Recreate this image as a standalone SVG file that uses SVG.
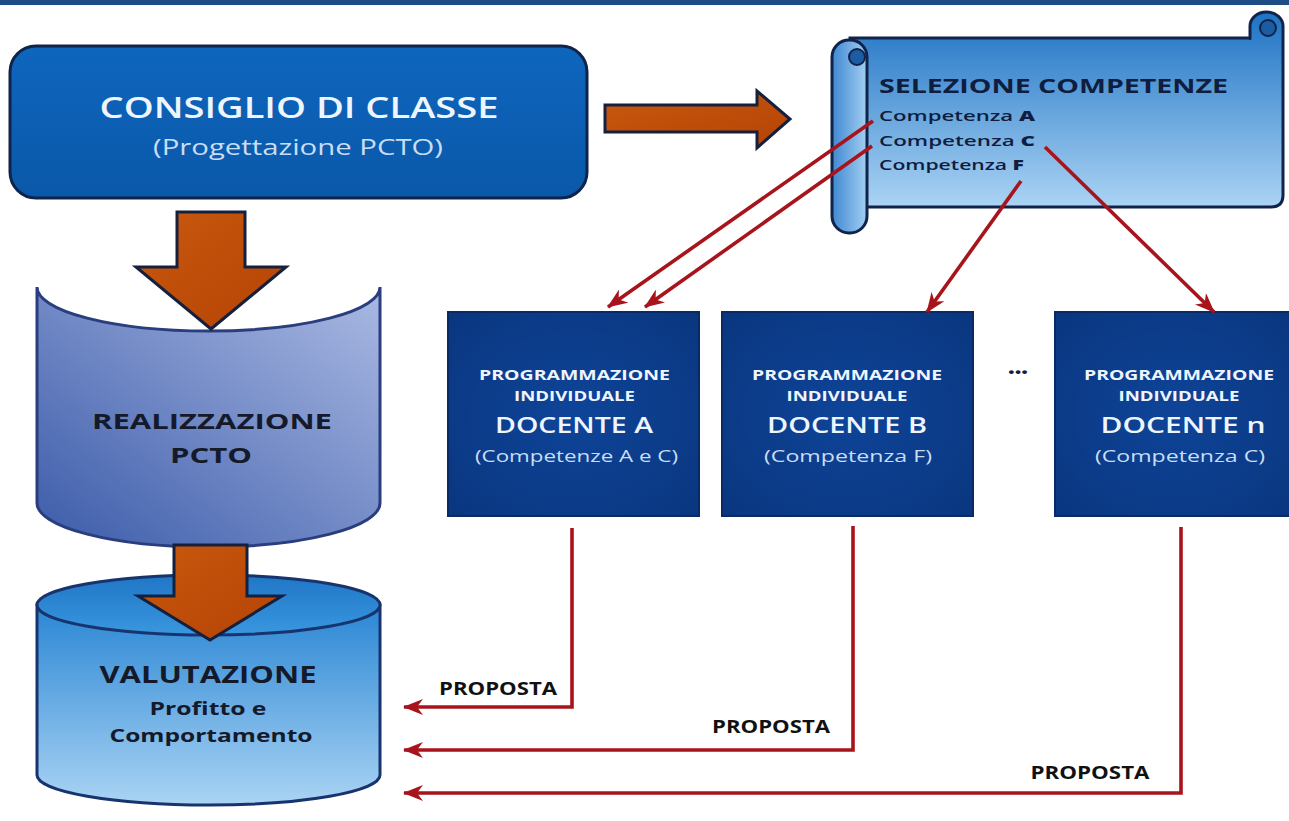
<svg xmlns="http://www.w3.org/2000/svg" width="1289" height="821" viewBox="0 0 1289 821">
<style>
text{font-family:"Open Sans","Liberation Sans",sans-serif}
.w{fill:#eef5ff}
.lb{fill:#c9ddf5}
.dk{fill:#141a2a;font-weight:700}
.nv{fill:#0f1d3f}
.red{fill:none;stroke:#a8141c;stroke-width:3.6;stroke-linejoin:miter}
.ol{stroke:#10234a;stroke-width:3}
.org{fill:url(#gOrg);stroke:#14203e;stroke-width:3;stroke-linejoin:miter}
.doc{fill:url(#gDoc);stroke:#082a66;stroke-width:2}
</style>
<defs>
<linearGradient id="gCons" x1="0" y1="0" x2="0" y2="1"><stop offset="0" stop-color="#0e66bd"/><stop offset="1" stop-color="#0a58a9"/></linearGradient>
<linearGradient id="gOrg" x1="0" y1="0" x2="1" y2="1"><stop offset="0" stop-color="#c9580e"/><stop offset="1" stop-color="#b54305"/></linearGradient>
<linearGradient id="gReal" x1="1" y1="0" x2="0" y2="1"><stop offset="0" stop-color="#aab9e3"/><stop offset="1" stop-color="#3b5ba9"/></linearGradient>
<linearGradient id="gValBody" x1="0" y1="0" x2="0" y2="1"><stop offset="0" stop-color="#2a86d4"/><stop offset="1" stop-color="#aad4f4"/></linearGradient>
<linearGradient id="gValTop" x1="0" y1="0" x2="0" y2="1"><stop offset="0" stop-color="#1f76c6"/><stop offset="1" stop-color="#3a97df"/></linearGradient>
<linearGradient id="gScroll" x1="0" y1="0" x2="0" y2="1"><stop offset="0" stop-color="#1d72c4"/><stop offset="1" stop-color="#abd4f4"/></linearGradient>
<linearGradient id="gRoll" x1="0" y1="0" x2="1" y2="0"><stop offset="0" stop-color="#3f88d2"/><stop offset="1" stop-color="#a3cff1"/></linearGradient>
<radialGradient id="gDoc" cx="0.5" cy="0.5" r="0.7"><stop offset="0" stop-color="#0e4498"/><stop offset="1" stop-color="#0a367f"/></radialGradient>
<marker id="ah" viewBox="0 0 20 16" refX="19" refY="8" markerWidth="20" markerHeight="16" markerUnits="userSpaceOnUse" orient="auto">
<path d="M0,0 L20,8 L0,16 L6,8 Z" fill="#a8141c"/>
</marker>
</defs>

<rect x="0" y="0" width="1289" height="5" fill="#1d4c85"/>

<g id="consiglio">
<rect x="10" y="46" width="577" height="152" rx="26" fill="url(#gCons)" class="ol"/>
<text x="299" y="118" font-size="28" font-weight="600" class="w" text-anchor="middle" textLength="399" lengthAdjust="spacingAndGlyphs">CONSIGLIO DI CLASSE</text>
<text x="298" y="155" font-size="21" class="lb" text-anchor="middle" textLength="290" lengthAdjust="spacingAndGlyphs">(Progettazione PCTO)</text>
</g>

<g id="arrow-right">
<path d="M605,105 H757 V91 L790,119 L757,148 V132 H605 Z" class="org"/>
</g>

<g id="selezione">
<path d="M850,38 H1250 V26 A16.5,14 0 0 1 1283,26 V195 Q1283,207 1271,207 H850 Z" fill="url(#gScroll)" class="ol"/>
<circle cx="1268" cy="28" r="8" fill="#1b5ca3" stroke="#10234a" stroke-width="2"/>
<path d="M1250,40 V30" stroke="#10234a" stroke-width="2"/>
<rect x="832" y="40" width="35" height="193" rx="17" fill="url(#gRoll)" class="ol"/>
<circle cx="857" cy="57" r="8" fill="#1b5ca3" stroke="#10234a" stroke-width="2"/>
<text x="879" y="93" font-size="20" font-weight="700" class="nv" textLength="349" lengthAdjust="spacingAndGlyphs">SELEZIONE COMPETENZE</text>
<text x="879" y="121" font-size="14" font-weight="600" class="nv" textLength="156" lengthAdjust="spacingAndGlyphs">Competenza <tspan font-weight="800">A</tspan></text>
<text x="879" y="146" font-size="14" font-weight="600" class="nv" textLength="156" lengthAdjust="spacingAndGlyphs">Competenza <tspan font-weight="800">C</tspan></text>
<text x="879" y="170" font-size="14" font-weight="600" class="nv" textLength="145" lengthAdjust="spacingAndGlyphs">Competenza <tspan font-weight="800">F</tspan></text>
</g>

<g id="realizzazione">
<path d="M37,287 A171.5,44 0 0 0 380,287 V503 A171.5,44 0 0 1 37,503 Z" fill="url(#gReal)" stroke="#2a3d7e" stroke-width="3"/>
<text x="212" y="429" font-size="22" class="dk" text-anchor="middle" textLength="240" lengthAdjust="spacingAndGlyphs">REALIZZAZIONE</text>
<text x="211" y="463" font-size="22" class="dk" text-anchor="middle" textLength="82" lengthAdjust="spacingAndGlyphs">PCTO</text>
</g>

<g id="valutazione">
<path d="M37,605 V775 A171.5,30 0 0 0 380,775 V605 Z" fill="url(#gValBody)" stroke="#18346e" stroke-width="3"/>
<ellipse cx="208.5" cy="605" rx="171.5" ry="30" fill="url(#gValTop)" stroke="#18346e" stroke-width="3"/>
<text x="208" y="683" font-size="24" class="dk" text-anchor="middle" textLength="217" lengthAdjust="spacingAndGlyphs">VALUTAZIONE</text>
<text x="208" y="715" font-size="17" class="dk" text-anchor="middle" textLength="117" lengthAdjust="spacingAndGlyphs">Profitto e</text>
<text x="211" y="742" font-size="17" class="dk" text-anchor="middle" textLength="203" lengthAdjust="spacingAndGlyphs">Comportamento</text>
</g>

<g id="arrow-down-1">
<path d="M177,212 H245 V267 H286 L211,329 L136,267 H177 Z" class="org"/>
</g>
<g id="arrow-down-2">
<path d="M174,545 H247 V596 H282 L210,640 L138,596 H174 Z" class="org"/>
</g>

<g id="docente-a">
<rect x="448" y="312" width="251" height="204" class="doc"/>
<text x="574.5" y="380" font-size="15" font-weight="700" class="w" text-anchor="middle" textLength="191" lengthAdjust="spacingAndGlyphs">PROGRAMMAZIONE</text>
<text x="574.5" y="401" font-size="15" font-weight="700" class="w" text-anchor="middle" textLength="121" lengthAdjust="spacingAndGlyphs">INDIVIDUALE</text>
<text x="574" y="433" font-size="22" font-weight="600" class="w" text-anchor="middle" textLength="158" lengthAdjust="spacingAndGlyphs">DOCENTE A</text>
<text x="576.5" y="462" font-size="17" class="lb" text-anchor="middle" textLength="203" lengthAdjust="spacingAndGlyphs">(Competenze A e C)</text>
</g>

<g id="docente-b">
<rect x="722" y="312" width="251" height="204" class="doc"/>
<text x="847" y="380" font-size="15" font-weight="700" class="w" text-anchor="middle" textLength="190" lengthAdjust="spacingAndGlyphs">PROGRAMMAZIONE</text>
<text x="847" y="401" font-size="15" font-weight="700" class="w" text-anchor="middle" textLength="121" lengthAdjust="spacingAndGlyphs">INDIVIDUALE</text>
<text x="847" y="433" font-size="22" font-weight="600" class="w" text-anchor="middle" textLength="160" lengthAdjust="spacingAndGlyphs">DOCENTE B</text>
<text x="848" y="462" font-size="17" class="lb" text-anchor="middle" textLength="168" lengthAdjust="spacingAndGlyphs">(Competenza F)</text>
</g>

<g id="ellipsis">
<text x="1018" y="374" font-size="20" font-weight="800" class="nv" text-anchor="middle" textLength="20" lengthAdjust="spacingAndGlyphs">...</text>
</g>

<g id="docente-n">
<rect x="1055" y="312" width="236" height="204" class="doc"/>
<text x="1179" y="380" font-size="15" font-weight="700" class="w" text-anchor="middle" textLength="190" lengthAdjust="spacingAndGlyphs">PROGRAMMAZIONE</text>
<text x="1179" y="401" font-size="15" font-weight="700" class="w" text-anchor="middle" textLength="121" lengthAdjust="spacingAndGlyphs">INDIVIDUALE</text>
<text x="1183" y="433" font-size="22" font-weight="600" class="w" text-anchor="middle" textLength="165" lengthAdjust="spacingAndGlyphs">DOCENTE n</text>
<text x="1180" y="462" font-size="17" class="lb" text-anchor="middle" textLength="170" lengthAdjust="spacingAndGlyphs">(Competenza C)</text>
</g>

<g id="connectors">
<path d="M873,121 L608,307" class="red" marker-end="url(#ah)"/>
<path d="M872,146 L645,307" class="red" marker-end="url(#ah)"/>
<path d="M1021,181 L927,312" class="red" marker-end="url(#ah)"/>
<path d="M1045,147 L1214,312" class="red" marker-end="url(#ah)"/>
<path d="M572,528 V707 H404" class="red" marker-end="url(#ah)"/>
<path d="M853,526 V750 H404" class="red" marker-end="url(#ah)"/>
<path d="M1181,527 V793 H404" class="red" marker-end="url(#ah)"/>
<text x="498" y="695" font-size="17" font-weight="700" fill="#111" text-anchor="middle" textLength="118" lengthAdjust="spacingAndGlyphs">PROPOSTA</text>
<text x="771" y="733" font-size="17" font-weight="700" fill="#111" text-anchor="middle" textLength="118" lengthAdjust="spacingAndGlyphs">PROPOSTA</text>
<text x="1090" y="779" font-size="17" font-weight="700" fill="#111" text-anchor="middle" textLength="119" lengthAdjust="spacingAndGlyphs">PROPOSTA</text>
</g>
</svg>
